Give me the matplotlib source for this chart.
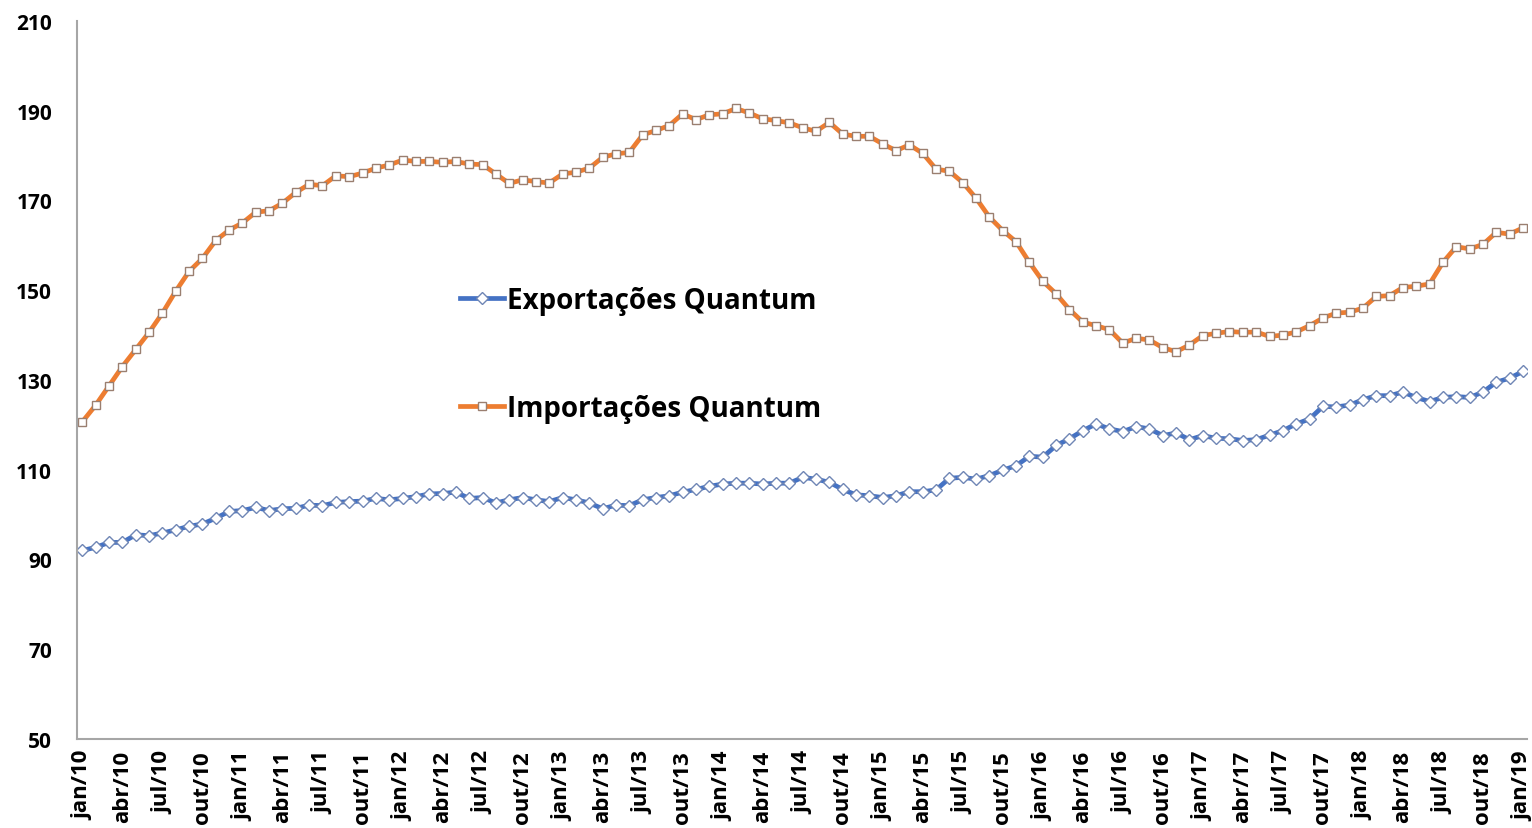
import matplotlib.pyplot as plt
import numpy as np

# monthly series, jan/10 .. jan/19
exportacoes = [
    92.0, 92.7, 93.8, 93.8, 95.5, 95.3, 95.9, 96.6, 97.4, 97.9, 99.2, 100.7,
    100.9, 101.6, 100.9, 101.3, 101.4, 102.1, 102.0, 102.7, 102.9, 103.0, 103.6, 103.3,
    103.6, 104.0, 104.6, 104.7, 105.0, 103.6, 103.8, 102.6, 103.3, 103.8, 103.3, 102.9,
    103.8, 103.3, 102.6, 101.3, 102.1, 102.0, 103.3, 103.8, 104.2, 105.0, 105.6, 106.3,
    106.8, 107.0, 107.0, 106.8, 107.0, 107.0, 108.3, 107.9, 107.2, 105.6, 104.4, 104.2,
    103.8, 104.2, 105.1, 105.1, 105.5, 108.1, 108.3, 107.9, 108.7, 109.9, 110.9, 113.0,
    112.8, 115.4, 116.9, 118.7, 120.2, 119.1, 118.5, 119.6, 119.1, 117.6, 118.2, 116.7,
    117.6, 117.0, 116.9, 116.5, 116.7, 117.7, 118.7, 120.2, 121.3, 124.1, 124.0, 124.4,
    125.6, 126.5, 126.5, 127.3, 126.1, 125.2, 126.1, 126.3, 126.1, 127.3, 129.5, 130.4,
    131.9,
]
importacoes = [
    120.7, 124.4, 128.7, 133.0, 136.8, 140.6, 144.9, 149.8, 154.2, 157.1, 161.1, 163.4,
    165.0, 167.4, 167.7, 169.4, 171.8, 173.6, 173.3, 175.5, 175.3, 176.1, 177.2, 177.9,
    179.0, 178.7, 178.7, 178.5, 178.7, 178.1, 178.0, 175.9, 173.8, 174.6, 174.2, 173.9,
    175.9, 176.3, 177.2, 179.6, 180.4, 180.7, 184.6, 185.6, 186.7, 189.3, 188.0, 189.1,
    189.3, 190.5, 189.5, 188.2, 187.8, 187.3, 186.2, 185.4, 187.4, 184.8, 184.3, 184.3,
    182.6, 181.1, 182.4, 180.5, 177.0, 176.5, 174.0, 170.5, 166.3, 163.3, 160.8, 156.2,
    152.0, 149.2, 145.7, 142.9, 142.1, 141.2, 138.2, 139.3, 138.9, 137.2, 136.3, 137.8,
    139.9, 140.4, 140.8, 140.6, 140.7, 139.7, 140.0, 140.7, 142.1, 143.8, 144.9, 145.1,
    146.0, 148.6, 148.8, 150.6, 150.9, 151.4, 156.2, 159.7, 159.2, 160.2, 162.9, 162.5,
    163.9,
]

meses = ['jan', 'fev', 'mar', 'abr', 'mai', 'jun', 'jul', 'ago', 'set', 'out', 'nov', 'dez']
labels = [f'{meses[i % 12]}/{10 + i // 12}' for i in range(len(exportacoes))]

plt.rcParams['font.family'] = ['Open Sans', 'DejaVu Sans']

fig = plt.figure(figsize=(15.32, 8.29), dpi=100)
ax = fig.add_axes([0.0503, 0.1074, 0.9464, 0.8661])

x = np.arange(len(exportacoes))
ax.plot(x, exportacoes, color='#4472C4', lw=3.4, marker='D', ms=6,
        mfc='white', mec='#6f86b5', mew=1.0, label='Exportações Quantum')
ax.plot(x, importacoes, color='#ED7D31', lw=3.4, marker='s', ms=6.3,
        mfc='white', mec='#9a7f70', mew=1.0, label='Importações Quantum')

ax.set_xlim(-0.4, 108.3)
ax.set_ylim(50, 210)
ax.set_yticks(np.arange(50, 211, 20))
ax.set_xticks(x[::3])
ax.set_xticklabels(labels[::3], rotation=90, fontsize=16, fontweight='bold')
for t in ax.get_yticklabels():
    t.set_fontsize(15)
    t.set_fontweight('bold')
ax.tick_params(axis='y', length=0, pad=18)
ax.tick_params(axis='x', length=0, pad=8)

for s in ['top', 'right']:
    ax.spines[s].set_visible(False)
for s in ['left', 'bottom']:
    ax.spines[s].set_color('#a6a6a6')
    ax.spines[s].set_linewidth(1.5)

leg = ax.legend(loc='center left', bbox_to_anchor=(0.264, 0.536), frameon=False,
                fontsize=20, labelspacing=2.85, handlelength=1.6, handletextpad=0.1,
                borderpad=0, borderaxespad=0)
for t in leg.get_texts():
    t.set_fontweight('bold')

fig.savefig('out.png', dpi=100)
